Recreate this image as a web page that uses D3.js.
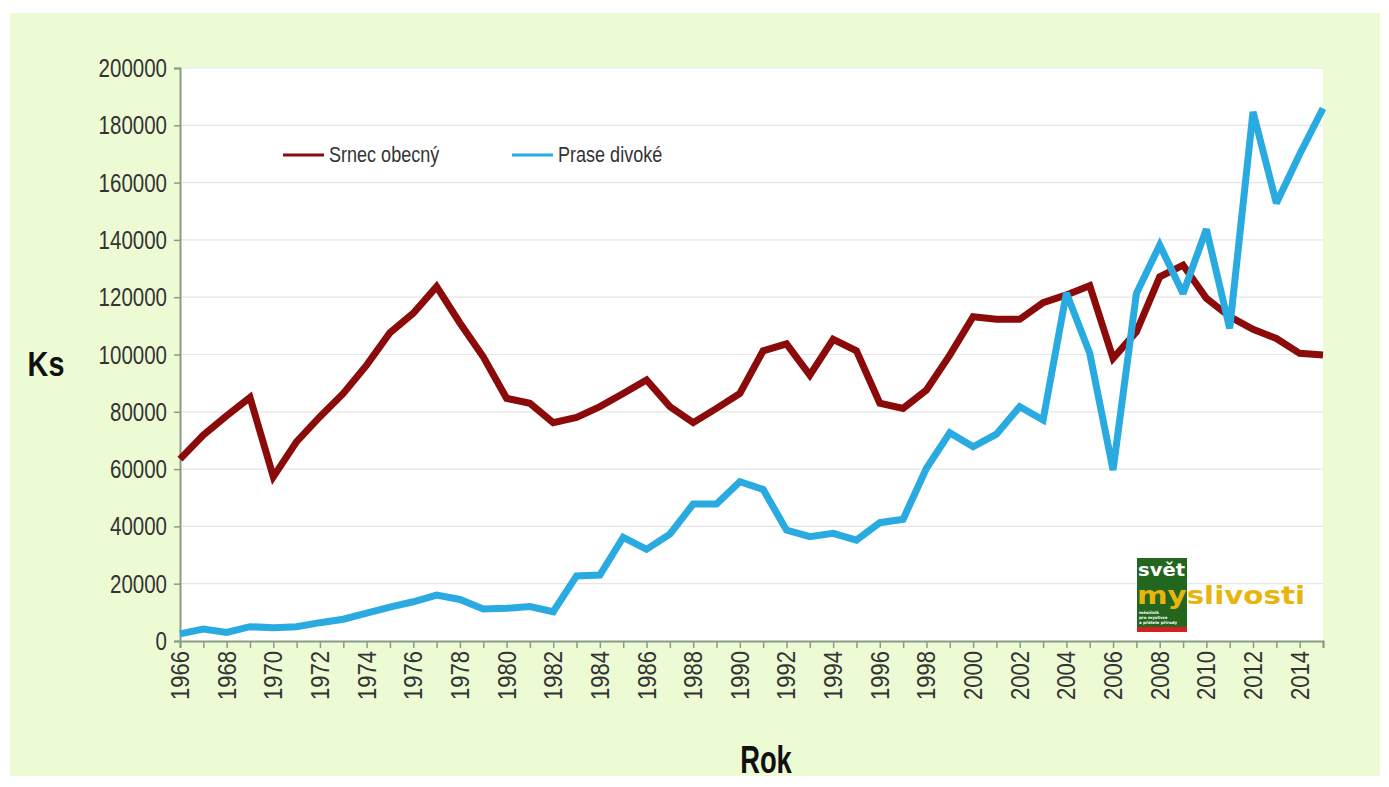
<!DOCTYPE html>
<html><head><meta charset="utf-8">
<script src="https://cdn.jsdelivr.net/npm/d3@7"></script>
<style>body{margin:0;background:#fff}</style>
</head><body><svg id="c" width="1389" height="787"></svg>
<script>
const years = [1966,1967,1968,1969,1970,1971,1972,1973,1974,1975,1976,1977,1978,1979,1980,1981,1982,1983,1984,1985,1986,1987,1988,1989,1990,1991,1992,1993,1994,1995,1996,1997,1998,1999,2000,2001,2002,2003,2004,2005,2006,2007,2008,2009,2010,2011,2012,2013,2014,2015];
const srnec = [63500,71900,78600,85000,57300,69600,78300,86400,96300,107600,114400,123700,111000,99200,84700,83000,76200,78000,81800,86400,91100,81800,76200,81200,86400,101300,103700,92800,105300,101300,83000,81200,87600,99800,113200,112300,112300,118100,120800,124000,98700,107900,127100,131200,119600,113200,108800,105600,100400,99800];
const prase = [2500,4200,3000,5000,4600,5000,6400,7600,9700,11800,13700,16000,14500,11200,11400,12000,10200,22700,23000,36200,32000,37300,47800,47800,55600,52900,38700,36400,37600,35200,41300,42500,60300,72700,67800,72200,81800,77100,121500,100400,59700,121300,138200,121300,143700,109100,184700,152800,169900,185900];
const yTicks = [0,20000,40000,60000,80000,100000,120000,140000,160000,180000,200000];
const xLabels = [1966,1968,1970,1972,1974,1976,1978,1980,1982,1984,1986,1988,1990,1992,1994,1996,1998,2000,2002,2004,2006,2008,2010,2012,2014];
const seriesNames = ["Srnec obecný","Prase divoké"];
const seriesColors = ["#8b0a0a","#29abe2"];

const FONT = "'Liberation Sans',Arial,sans-serif";
const SX = 0.82;
const svg = d3.select("#c");
const L = 180, R = 1323, T = 68, B = 641;

svg.append("rect").attr("x",10).attr("y",13).attr("width",1370).attr("height",763).attr("fill","#ecfbd4");
svg.append("rect").attr("x",L).attr("y",T).attr("width",R-L).attr("height",B-T).attr("fill","#ffffff");

const x = d3.scaleLinear().domain([1966,2015]).range([L,R]);
const y = d3.scaleLinear().domain([0,200000]).range([B,T]);

// grid
svg.append("g").selectAll("line").data(yTicks.slice(1)).join("line")
  .attr("x1",L).attr("x2",R).attr("y1",d=>y(d)).attr("y2",d=>y(d))
  .attr("stroke","#e6e6e6").attr("stroke-width",1.2);

// y axis
const ya = svg.append("g").attr("transform",`translate(${L},0)`)
  .call(d3.axisLeft(y).tickValues(yTicks).tickSize(6).tickFormat(""));
ya.select(".domain").attr("stroke","#8a9c86").attr("stroke-width",2);
ya.selectAll(".tick line").attr("stroke","#8a9c86").attr("stroke-width",1.5);
svg.append("g").selectAll("text").data(yTicks).join("text")
  .attr("transform",d=>`translate(${L-13},${y(d)}) scale(${SX},1)`)
  .attr("text-anchor","end").attr("dy","0.36em")
  .attr("font-family",FONT).attr("font-size",25).attr("fill","#333")
  .text(d=>String(d));

// x axis
const xa = svg.append("g").attr("transform",`translate(0,${B})`)
  .call(d3.axisBottom(x).tickValues(years).tickSize(7).tickFormat(""));
xa.select(".domain").attr("stroke","#8a9c86").attr("stroke-width",2);
xa.selectAll(".tick line").attr("stroke","#8a9c86").attr("stroke-width",1.5);

svg.append("g").selectAll("text").data(xLabels).join("text")
  .attr("transform",d=>`translate(${x(d)},${B+10}) rotate(-90) scale(0.88,1)`)
  .attr("text-anchor","end").attr("dy","0.36em")
  .attr("font-family",FONT).attr("font-size",25).attr("fill","#333")
  .text(d=>d);

// lines
const line = d3.line().x((d,i)=>x(years[i])).y(d=>y(d));
[srnec,prase].forEach((s,k)=>{
  svg.append("path").datum(s).attr("d",line).attr("fill","none")
    .attr("stroke",seriesColors[k]).attr("stroke-width",7)
    .attr("stroke-linejoin","miter").attr("stroke-miterlimit",2.5);
});

// legend
const legX = [283,512];
seriesNames.forEach((n,k)=>{
  svg.append("line").attr("x1",legX[k]).attr("x2",legX[k]+41).attr("y1",155).attr("y2",155)
    .attr("stroke",seriesColors[k]).attr("stroke-width",3);
  svg.append("text").attr("transform",`translate(${legX[k]+46},162) scale(${SX},1)`).attr("font-family",FONT)
    .attr("font-size",22).attr("fill","#333").text(n);
});

// axis titles
svg.append("text").attr("transform","translate(46,376) scale(0.8,1)").attr("text-anchor","middle")
  .attr("font-family",FONT).attr("font-weight","bold").attr("font-size",36).attr("fill","#111").text("Ks");
svg.append("text").attr("transform","translate(766,773) scale(0.72,1)").attr("text-anchor","middle")
  .attr("font-family",FONT).attr("font-weight","bold").attr("font-size",38).attr("fill","#111").text("Rok");

// logo
const lg = svg.append("g");
lg.append("rect").attr("x",1137).attr("y",558).attr("width",50).attr("height",70).attr("fill","#23661e");
lg.append("rect").attr("x",1137).attr("y",627).attr("width",50).attr("height",5).attr("fill","#d42020");
lg.append("text").attr("x",1138).attr("y",576).attr("font-family","'DejaVu Sans',sans-serif").attr("font-weight","bold")
  .attr("font-size",17).attr("fill","#ffffff").attr("textLength",47).attr("lengthAdjust","spacingAndGlyphs").text("svět");
lg.append("text").attr("x",1137).attr("y",604).attr("font-family","'DejaVu Sans',sans-serif").attr("font-weight","bold")
  .attr("font-size",24).attr("fill","#e8b50e").attr("textLength",168).attr("lengthAdjust","spacingAndGlyphs").text("myslivosti");
["měsíčník","pro myslivce","a přátele přírody"].forEach((t,i)=>{
  lg.append("text").attr("x",1139).attr("y",614+i*5).attr("font-family","'DejaVu Sans',sans-serif")
    .attr("font-size",4).attr("font-weight","bold").attr("fill","#ffffff").text(t);
});
</script></body></html>
